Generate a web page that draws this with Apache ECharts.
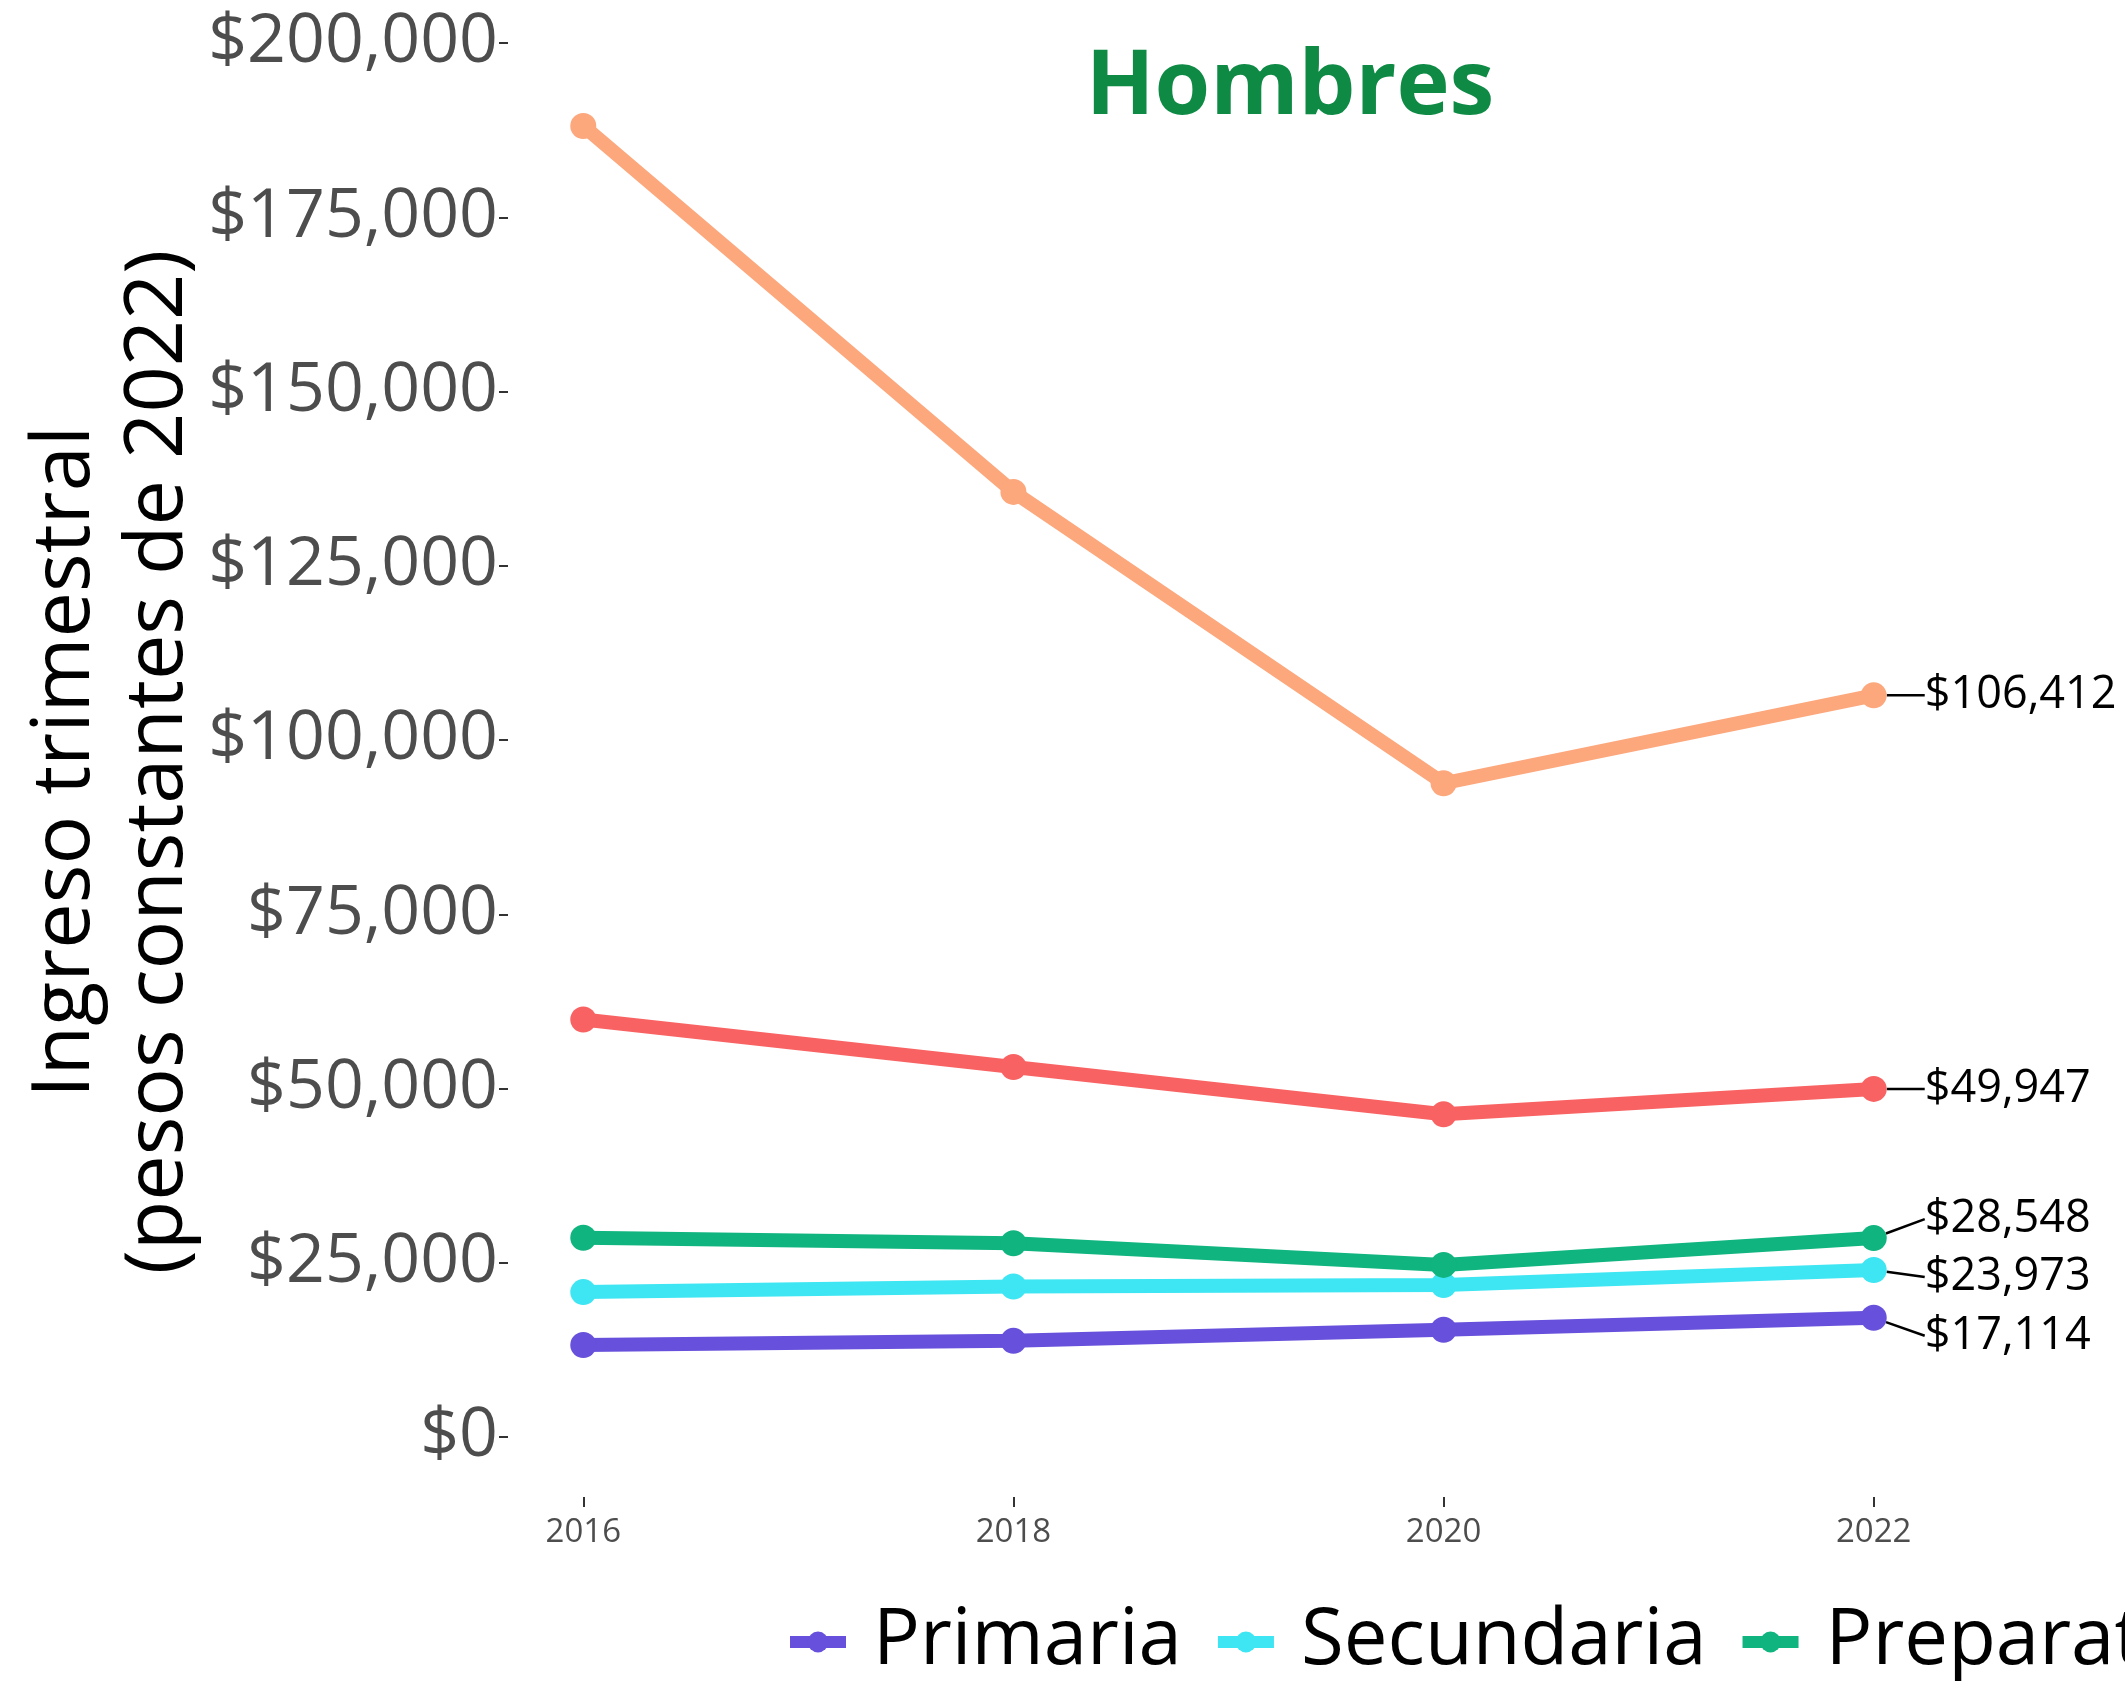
<!DOCTYPE html>
<html>
<head>
<meta charset="utf-8">
<script src="https://cdn.jsdelivr.net/npm/echarts@6/dist/echarts.min.js"></script>
<style>
  html, body { margin: 0; padding: 0; background: #fff; }
  #main { width: 2125px; height: 1681px; }
</style>
</head>
<body>
<div id="main"></div>
<script>
// years on the x axis
const years = [2016, 2018, 2020, 2022];
// ingreso trimestral por nivel educativo (hombres)
const primaria = [13200, 13800, 15400, 17114];
const secundaria = [20800, 21600, 21800, 23973];
const preparatoria = [28600, 27800, 24700, 28548];
const licenciatura = [59900, 53100, 46300, 49947];
const posgrado = [188100, 135600, 93800, 106412];
const seriesNames = ['Primaria', 'Secundaria', 'Preparatoria', 'Licenciatura', 'Posgrado'];
const yTicks = [0, 25000, 50000, 75000, 100000, 125000, 150000, 175000, 200000];

const colors = ['#6750DB', '#3DE6F2', '#0FB47E', '#F96262', '#FCA77C'];
// vertical shift of the end label (ggrepel style)
const labelDy = [18, 7, -19, 0, 0];

const money = v => '$' + Math.round(v).toLocaleString('en-US');

var myChart = echarts.init(document.getElementById('main'));

function buildSeries(name, values, idx) {
    const data = values.map((v, i) => {
        if (i === values.length - 1) {
            return { value: [years[i], v], label: { show: true } };
        }
        return [years[i], v];
    });
    return {
        name: name,
        type: 'line',
        data: data,
        color: colors[idx],
        symbol: 'circle',
        symbolSize: 26,
        lineStyle: { width: 14 },
        z: 2 + idx,
        label: {
            show: false,
            position: 'right',
            distance: 38,
            formatter: p => money(p.value[1]),
            fontFamily: 'Open Sans',
            fontSize: 45,
            color: '#000'
        },
        labelLine: {
            show: true,
            lineStyle: { color: '#000', width: 2.5 }
        },
        labelLayout: () => ({ dy: labelDy[idx] })
    };
}

const allValues = [primaria, secundaria, preparatoria, licenciatura, posgrado];
const series = seriesNames.map((n, i) => buildSeries(n, allValues[i], i));

const option = {
    backgroundColor: '#ffffff',
    animation: false,
    title: {
        text: 'Hombres',
        left: 1285,
        top: 38,
        textAlign: 'center',
        textStyle: {
            fontFamily: 'Open Sans',
            fontWeight: 'bold',
            fontSize: 90,
            color: '#0E8A45'
        }
    },
    legend: {
        data: seriesNames,
        left: 779,
        top: 1598,
        width: 4000,
        itemWidth: 56,
        itemHeight: 26,
        itemGap: 30,
        lineStyle: { width: 12 },
        textStyle: {
            fontFamily: 'Open Sans',
            fontSize: 78,
            color: '#000',
            padding: [0, 0, 0, 22]
        }
    },
    grid: {
        left: 508,
        right: 176,
        top: 43,
        bottom: 184,
        containLabel: false
    },
    xAxis: {
        type: 'value',
        min: 2015.65,
        max: 2022.35,
        splitLine: { show: false },
        axisLine: { show: false, onZero: false },
        axisTick: {
            show: true,
            length: 10,
            customValues: years,
            lineStyle: { color: '#333', width: 2 }
        },
        axisLabel: {
            customValues: years,
            formatter: v => String(v),
            margin: 19,
            fontFamily: 'Open Sans',
            fontSize: 33,
            color: '#4D4D4D'
        }
    },
    yAxis: {
        type: 'value',
        min: -8600,
        max: 200000,
        splitLine: { show: false },
        axisLine: { show: false, onZero: false },
        axisTick: {
            show: true,
            length: 9,
            customValues: yTicks,
            lineStyle: { color: '#333', width: 2 }
        },
        axisLabel: {
            customValues: yTicks,
            formatter: v => money(v),
            margin: 10,
            fontFamily: 'Open Sans',
            fontSize: 68,
            color: '#4D4D4D'
        }
    },
    graphic: [{
        type: 'text',
        x: 112,
        y: 762,
        rotation: Math.PI / 2,
        style: {
            text: 'Ingreso trimestral\n(pesos constantes de 2022)',
            fontFamily: 'Open Sans',
            fontSize: 81,
            lineHeight: 93,
            fill: '#000',
            align: 'center',
            verticalAlign: 'middle'
        }
    }],
    series: series
};

myChart.setOption(option);
</script>
</body>
</html>
